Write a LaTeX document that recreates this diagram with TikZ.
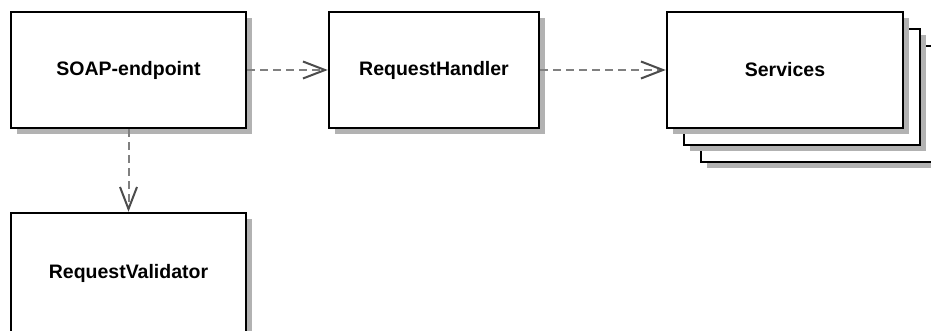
\documentclass[tikz,border=0pt]{standalone}
\usepackage{fontspec}
\setmainfont{Liberation Sans}
\usetikzlibrary{arrows.meta,shadows}
\begin{document}
\begin{tikzpicture}[x=1pt,y=-1pt,
  umlbox/.style={draw=black,line width=2.5pt,fill=white,inner sep=0pt,
    minimum height=116pt,font=\bfseries\fontsize{19.5}{22}\selectfont,
    drop shadow={shadow xshift=6pt,shadow yshift=-6pt,opacity=1,fill=black!30}},
  dep/.style={draw=black!50,line width=2pt,dash pattern=on 8pt off 5pt,
    -{Straight Barb[length=22pt,width=17pt,line width=2pt,color=black!70]}}]
\useasboundingbox (0,0) rectangle (931,331);
\clip (0,0) rectangle (931,331);
\fill[white] (0,0) rectangle (931,331);
\node[umlbox,minimum width=235pt] (soap) at (128.5,70) {SOAP-endpoint};
\node[umlbox,minimum width=210pt] (handler) at (434,70) {RequestHandler};
\node[umlbox,minimum width=236pt] (svc3) at (819,104) {};
\node[umlbox,minimum width=236pt] (svc2) at (802,87) {};
\node[umlbox,minimum width=236pt] (svc) at (785,70) {Services};
\node[umlbox,minimum width=235pt,minimum height=124pt] (valid) at (128.5,275) {};
\node[font=\bfseries\fontsize{19.5}{22}\selectfont] (validtext) at (128.5,273) {RequestValidator};
\draw[dep] (soap.east) -- (handler.west);
\draw[dep] (handler.east) -- (svc.west);
\draw[dep] (soap.south) -- (valid.north);
\end{tikzpicture}
\end{document}
